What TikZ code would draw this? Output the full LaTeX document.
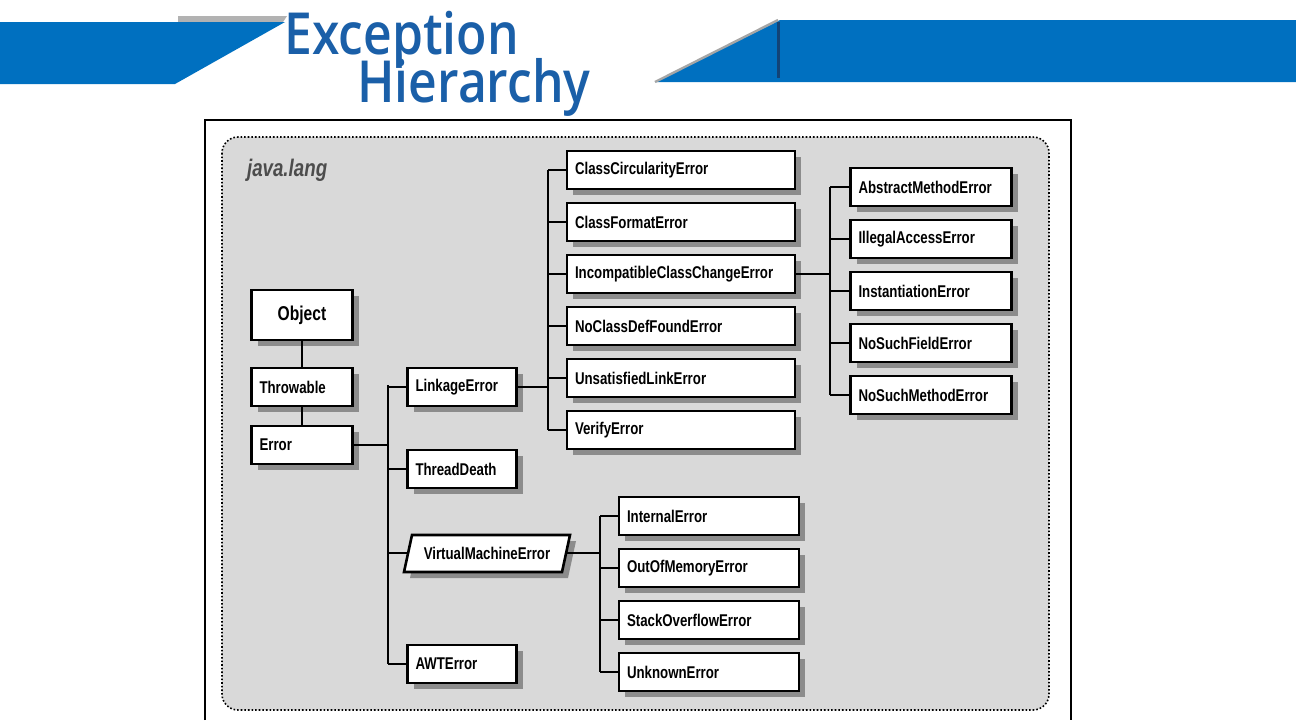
\documentclass[tikz,border=0pt]{standalone}
\usepackage{fontspec}
\setmainfont{Liberation Sans}
\newfontfamily\boxfont[FakeStretch=0.78]{Liberation Sans Bold}
\newfontfamily\titlefont[FakeStretch=0.86]{Open Sans Semibold}
\usetikzlibrary{shadows}
\definecolor{band}{HTML}{0070C0}
\definecolor{ttl}{HTML}{1A5FA8}
\tikzset{
  bx/.style={draw, line width=1.3pt, fill=white, inner sep=4pt, align=left,
    font=\boxfont\fontsize{8.5}{10}\selectfont,
    drop shadow={shadow xshift=3pt, shadow yshift=-3pt, fill=black!45, opacity=1}},
  cls/.style={bx, text width=106pt, minimum height=19pt},
  rgt/.style={bx, text width=72.5pt, minimum height=19pt},
  vmg/.style={bx, text width=82pt, minimum height=19pt},
  sml/.style={bx, text width=46.5pt, minimum height=19pt},
  sm2/.style={bx, text width=42.5pt, minimum height=19pt},
  ln/.style={line width=1.3pt}
}
\begin{document}
\begin{tikzpicture}[x=0.5pt,y=-0.5pt]
\useasboundingbox (0,0) rectangle (1296,720);
\fill[white] (0,0) rectangle (1296,720);
% header
\fill[black!30] (178,16) -- (287,16) -- (283,22) -- (178,22) -- cycle;
\fill[band] (0,22) -- (285,22) -- (175,84) -- (0,84) -- cycle;
\fill[band] (780,20) -- (1296,20) -- (1296,82) -- (655,82) -- cycle;
\draw[black!35, line width=1.2pt] (655,82) -- (778,20);
\draw[ttl!70!black, line width=1.5pt] (778,22) -- (778,78);
\node[anchor=base west, text=ttl, font=\titlefont\fontsize{29}{30}\selectfont, inner sep=0] (t1) at (284,54) {Exception};
\node[anchor=base west, text=ttl, font=\titlefont\fontsize{29}{30}\selectfont, inner sep=0] (t2) at (357,102) {Hierarchy};
% frame
\draw[line width=1pt] (205,720) -- (205,120) -- (1071,120) -- (1071,720);
\draw[fill=black!15, densely dotted, line width=0.8pt, rounded corners=8pt] (222,137) rectangle (1049,710);
\node[anchor=west, font=\boxfont\itshape\fontsize{12}{14}\selectfont, text=black!70] (pkg) at (240,170) {java.lang};
% left chain
\node[bx, text width=42.5pt, minimum height=25pt, align=center, font=\boxfont\fontsize{10}{12}\selectfont] (obj) at (302,315) {Object};
\node[sm2] (thr) at (302,387) {Throwable};
\node[sm2] (err) at (302,445) {Error};
\node[sml] (lnk) at (462,387) {LinkageError};
\node[sml] (td) at (462,469) {ThreadDeath};
\node[sml] (awt) at (462,664) {AWTError};
% VME parallelogram
\fill[black!45] (418,541) -- (576,541) -- (568,578) -- (410,578) -- cycle;
\filldraw[fill=white, line width=1.3pt] (412,535) -- (570,535) -- (562,572) -- (404,572) -- cycle;
\node[font=\boxfont\fontsize{8.5}{10}\selectfont] (vme) at (487,553) {VirtualMachineError};
\coordinate (vmeR) at (566,553);
\coordinate (vmeL) at (408,553);
% class group
\node[cls] (c1) at (681,170) {ClassCircularityError};
\node[cls] (c2) at (681,222) {ClassFormatError};
\node[cls] (c3) at (681,274) {IncompatibleClassChangeError};
\node[cls] (c4) at (681,326) {NoClassDefFoundError};
\node[cls] (c5) at (681,378) {UnsatisfiedLinkError};
\node[cls] (c6) at (681,430) {VerifyError};
% right group
\node[rgt] (r1) at (931,187) {AbstractMethodError};
\node[rgt] (r2) at (931,239) {IllegalAccessError};
\node[rgt] (r3) at (931,291) {InstantiationError};
\node[rgt] (r4) at (931,343) {NoSuchFieldError};
\node[rgt] (r5) at (931,395) {NoSuchMethodError};
% vme group
\node[vmg] (v1) at (709,516) {InternalError};
\node[vmg] (v2) at (709,568) {OutOfMemoryError};
\node[vmg] (v3) at (709,620) {StackOverflowError};
\node[vmg] (v4) at (709,672) {UnknownError};
% connectors
\draw[ln] (obj) -- (thr);
\draw[ln] (thr) -- (err);
\coordinate (ta) at (388,385); \coordinate (tb) at (388,664);
\draw[ln] (ta) -- (tb);
\draw[ln] (err.east) -- (err.east -| ta);
\foreach \n in {lnk,td,awt} \draw[ln] (\n.west) -- (\n.west -| ta);
\draw[ln] (vmeL) -- (vmeL -| ta);
\coordinate (la) at (548,170); \coordinate (lb) at (548,430);
\draw[ln] (la) -- (lb);
\draw[ln] (lnk.east) -- (lnk.east -| la);
\foreach \n in {c1,c2,c3,c4,c5,c6} \draw[ln] (\n.west) -- (\n.west -| la);
\coordinate (ia) at (830,187); \coordinate (ib) at (830,395);
\draw[ln] (ia) -- (ib);
\draw[ln] (c3.east) -- (c3.east -| ia);
\foreach \n in {r1,r2,r3,r4,r5} \draw[ln] (\n.west) -- (\n.west -| ia);
\coordinate (va) at (600,516); \coordinate (vb) at (600,672);
\draw[ln] (va) -- (vb);
\draw[ln] (vmeR) -- (vmeR -| va);
\foreach \n in {v1,v2,v3,v4} \draw[ln] (\n.west) -- (\n.west -| va);
\end{tikzpicture}
\end{document}
